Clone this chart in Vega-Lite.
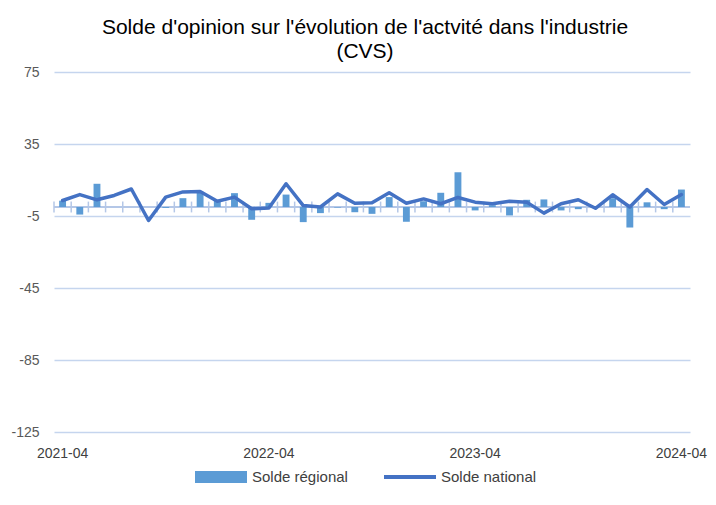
{
  "$schema": "https://vega.github.io/schema/vega-lite/v6.json",
  "width": 636,
  "height": 360,
  "autosize": {"type": "none"},
  "padding": {"left": 54, "top": 72, "right": 26, "bottom": 73},
  "background": "white",
  "config": {"view": {"stroke": null}},
  "title": {
    "text": ["Solde d'opinion sur l'évolution de l'actvité dans l'industrie", "(CVS)"],
    "anchor": "middle",
    "font": "Liberation Sans",
    "fontSize": 21,
    "fontWeight": "normal",
    "color": "#000000",
    "lineHeight": 24,
    "offset": 3,
    "dx": -7
  },
  "data": {
    "values": [
      {"m": "2021-04", "reg": 3.5, "nat": 3.6},
      {"m": "2021-05", "reg": -4.2, "nat": 6.9},
      {"m": "2021-06", "reg": 12.9, "nat": 4.0},
      {"m": "2021-07", "reg": 0, "nat": 6.4},
      {"m": "2021-08", "reg": 0, "nat": 10.0},
      {"m": "2021-09", "reg": 0, "nat": -7.5},
      {"m": "2021-10", "reg": -0.5, "nat": 5.5},
      {"m": "2021-11", "reg": 4.9, "nat": 8.4},
      {"m": "2021-12", "reg": 8.5, "nat": 8.6},
      {"m": "2022-01", "reg": 3.5, "nat": 3.2},
      {"m": "2022-02", "reg": 7.7, "nat": 5.5},
      {"m": "2022-03", "reg": -7.1, "nat": -1.0},
      {"m": "2022-04", "reg": 2.3, "nat": -0.5},
      {"m": "2022-05", "reg": 6.9, "nat": 12.9},
      {"m": "2022-06", "reg": -8.4, "nat": 0.8},
      {"m": "2022-07", "reg": -3.4, "nat": 0.0},
      {"m": "2022-08", "reg": -0.3, "nat": 7.3},
      {"m": "2022-09", "reg": -2.9, "nat": 2.1},
      {"m": "2022-10", "reg": -3.8, "nat": 2.3},
      {"m": "2022-11", "reg": 5.5, "nat": 7.9},
      {"m": "2022-12", "reg": -8.2, "nat": 2.1},
      {"m": "2023-01", "reg": 3.2, "nat": 4.5},
      {"m": "2023-02", "reg": 7.9, "nat": 1.8},
      {"m": "2023-03", "reg": 19.3, "nat": 5.3},
      {"m": "2023-04", "reg": -1.9, "nat": 2.7},
      {"m": "2023-05", "reg": 1.0, "nat": 1.8},
      {"m": "2023-06", "reg": -4.7, "nat": 3.2},
      {"m": "2023-07", "reg": 4.0, "nat": 2.7},
      {"m": "2023-08", "reg": 4.2, "nat": -3.4},
      {"m": "2023-09", "reg": -1.9, "nat": 1.8},
      {"m": "2023-10", "reg": -1.2, "nat": 4.0},
      {"m": "2023-11", "reg": 0, "nat": -0.7},
      {"m": "2023-12", "reg": 4.9, "nat": 6.8},
      {"m": "2024-01", "reg": -11.4, "nat": 0.0},
      {"m": "2024-02", "reg": 2.6, "nat": 9.7},
      {"m": "2024-03", "reg": -1.2, "nat": 1.4},
      {"m": "2024-04", "reg": 9.7, "nat": 6.9}
    ]
  },
  "encoding": {
    "x": {
      "field": "m",
      "type": "ordinal",
      "sort": null,
      "scale": {"paddingInner": 0, "paddingOuter": 0},
      "axis": {
        "title": null,
        "values": ["2021-04", "2022-04", "2023-04", "2024-04"],
        "domain": false,
        "ticks": false,
        "labelAngle": 0,
        "labelPadding": 14,
        "labelFont": "Liberation Sans",
        "labelFontSize": 14,
        "labelColor": "#404040",
        "labelOverlap": false,
        "labelFlush": false
      }
    }
  },
  "layer": [
    {
      "mark": {"type": "rule", "color": "#B4C7E7", "strokeWidth": 1.5},
      "encoding": {
        "x": null,
        "y": {"datum": 0, "type": "quantitative"}
      }
    },
    {
      "mark": {"type": "rule", "color": "#B4C7E7", "strokeWidth": 1.5},
      "encoding": {
        "x": {"field": "m", "type": "ordinal", "sort": null, "bandPosition": 0},
        "y": {"datum": -3, "type": "quantitative"},
        "y2": {"datum": 3}
      }
    },
    {
      "mark": {"type": "bar", "width": {"band": 0.4}},
      "encoding": {
        "y": {
          "field": "reg",
          "type": "quantitative",
          "scale": {"domain": [-125, 75], "nice": false, "zero": false},
          "axis": {
            "title": null,
            "values": [-125, -85, -45, -5, 35, 75],
            "labelExpr": "replace(datum.label, '−', '-')",
            "grid": true,
            "gridColor": "#C5D5EE",
            "gridWidth": 1.5,
            "domain": false,
            "ticks": false,
            "labelPadding": 15,
            "labelFont": "Liberation Sans",
            "labelFontSize": 14,
            "labelColor": "#595959"
          }
        },
        "color": {
          "datum": "Solde régional",
          "scale": {"domain": ["Solde régional", "Solde national"], "range": ["#5B9BD5", "#4472C4"]},
          "legend": {
            "title": null,
            "orient": "none",
            "direction": "horizontal",
            "legendX": 141,
            "legendY": 379,
            "columnPadding": 36,
            "labelFont": "Liberation Sans",
            "labelFontSize": 15,
            "labelColor": "#404040",
            "labelOffset": 5,
            "symbolSize": 2704,
            "symbolType": "M-1,-0.23H1V0.23H-1Z",
            "encode": {
              "symbols": {
                "update": {
                  "shape": {"signal": "datum.value === 'Solde régional' ? 'M-1,-0.23H1V0.23H-1Z' : 'M-1,-0.08H1V0.08H-1Z'"},
                  "fill": {"signal": "datum.value === 'Solde régional' ? '#5B9BD5' : '#4472C4'"},
                  "stroke": {"value": "transparent"},
                  "strokeWidth": {"value": 0},
                  "opacity": {"value": 1}
                }
              }
            }
          }
        }
      }
    },
    {
      "mark": {"type": "line", "strokeWidth": 3.5, "strokeJoin": "round", "strokeCap": "round"},
      "encoding": {
        "y": {"field": "nat", "type": "quantitative"},
        "color": {"datum": "Solde national"}
      }
    }
  ]
}
